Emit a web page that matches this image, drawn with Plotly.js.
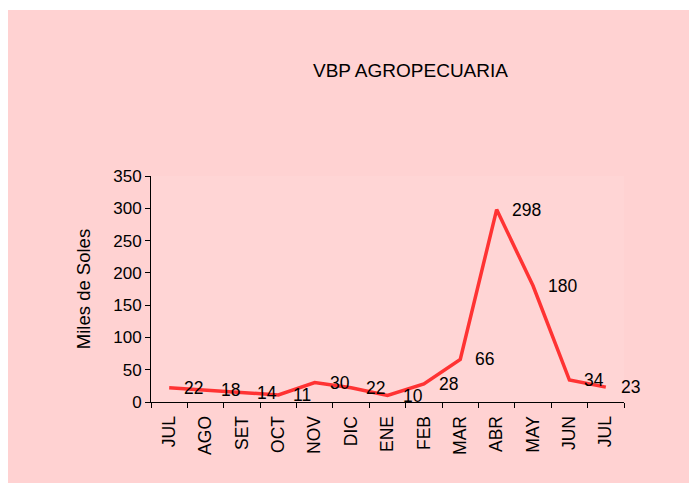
<!DOCTYPE html>
<html>
<head>
<meta charset="utf-8">
<script src="https://cdn.plot.ly/plotly-3.0.1.min.js"></script>
<style>
  html, body { margin: 0; padding: 0; background: #ffffff; width: 689px; height: 483px; overflow: hidden; }
  #chart { position: absolute; left: 8px; top: 10px; width: 681px; height: 473px; }
</style>
</head>
<body>
<div id="chart"></div>
<script>
// Data
var months = ["JUL", "AGO", "SET", "OCT", "NOV", "DIC", "ENE", "FEB", "MAR", "ABR", "MAY", "JUN", "JUL"];
var values = [22, 18, 14, 11, 30, 22, 10, 28, 66, 298, 180, 34, 23];
var yTicks = [0, 50, 100, 150, 200, 250, 300, 350];

var xIdx = months.map(function (m, i) { return i; });
var boundaries = months.map(function (m, i) { return i - 0.5; }).concat([months.length - 0.5]);

var trace = {
  x: xIdx,
  y: values,
  type: 'scatter',
  mode: 'lines',
  line: { color: '#ff3333', width: 3.5 },
  hoverinfo: 'skip'
};

var fontFam = 'Arial, Liberation Sans, sans-serif';

var annotations = values.map(function (v, i) {
  return {
    x: i, y: v, xref: 'x', yref: 'y',
    text: String(v), showarrow: false,
    xanchor: 'left', yanchor: 'middle',
    xshift: 13, yshift: 0,
    font: { family: fontFam, size: 17.5, color: '#000000' }
  };
});

var layout = {
  width: 681,
  height: 473,
  paper_bgcolor: '#ffd2d2',
  plot_bgcolor: '#ffd5d5',
  margin: { l: 143, r: 65, t: 166, b: 81 },
  showlegend: false,
  title: {
    text: 'VBP AGROPECUARIA',
    font: { family: fontFam, size: 19, color: '#000000' },
    x: 0.591, xanchor: 'center',
    y: 0.872, yanchor: 'middle'
  },
  xaxis: {
    range: [-0.5, months.length - 0.5],
    tickmode: 'array',
    tickvals: xIdx,
    ticktext: months,
    tickangle: -90,
    ticks: 'outside',
    ticklen: 0,
    ticklabelstandoff: 6,
    tickfont: { family: fontFam, size: 17.5, color: '#000000' },
    showline: true, linecolor: '#000000', linewidth: 1,
    showgrid: false, zeroline: false,
    minor: { tickmode: 'array', tickvals: boundaries, ticks: 'outside', ticklen: 5, tickcolor: '#000000', tickwidth: 1, showgrid: false },
    fixedrange: true
  },
  yaxis: {
    range: [0, 350],
    tickmode: 'array',
    tickvals: yTicks,
    ticktext: yTicks.map(String),
    ticks: 'outside', ticklen: 5, tickcolor: '#000000', tickwidth: 1,
    tickfont: { family: fontFam, size: 17, color: '#000000' },
    showline: true, linecolor: '#000000', linewidth: 1,
    showgrid: false, zeroline: false,
    title: { text: 'Miles de Soles', font: { family: fontFam, size: 18.5, color: '#000000' }, standoff: 17 },
    fixedrange: true
  },
  annotations: annotations
};

Plotly.newPlot('chart', [trace], layout, { displayModeBar: false, staticPlot: true });
</script>
</body>
</html>
